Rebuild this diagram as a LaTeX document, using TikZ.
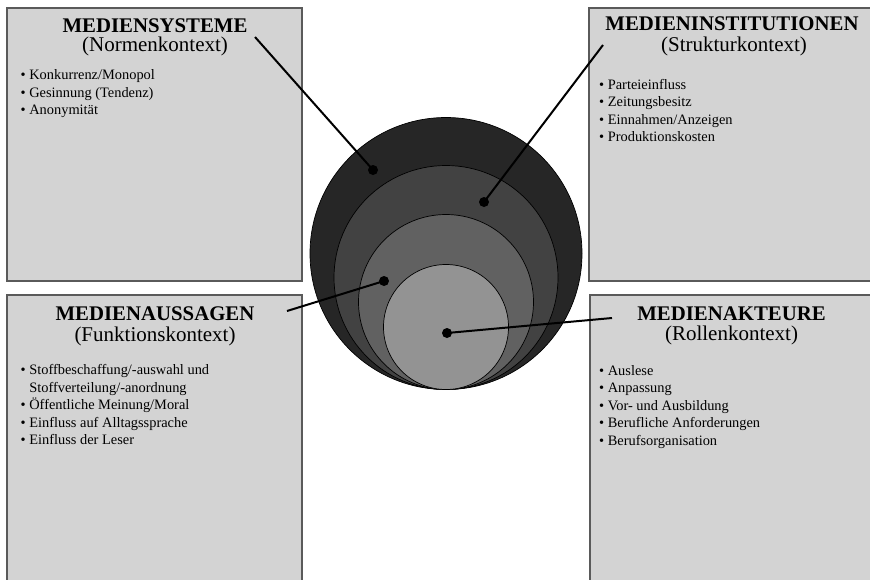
\documentclass[tikz,border=0pt]{standalone}
\usepackage{fontspec}
\setmainfont{Liberation Serif}
\definecolor{boxfill}{RGB}{211,211,211}
\definecolor{boxline}{RGB}{90,90,90}
\definecolor{ringA}{RGB}{38,38,38}
\definecolor{ringB}{RGB}{66,66,66}
\definecolor{ringC}{RGB}{97,97,97}
\definecolor{ringD}{RGB}{147,147,147}
\tikzset{
  panel/.style={draw=boxline, fill=boxfill, line width=1.3pt},
  ttl/.style={anchor=base, inner sep=0pt, font=\fontsize{20.8}{24}\selectfont\bfseries},
  subttl/.style={anchor=base, inner sep=0pt, font=\fontsize{21}{24}\selectfont},
  blist/.style={anchor=base west, inner sep=0pt, font=\fontsize{14.4}{17.6}\selectfont},
  ring/.style={draw=black, line width=0.7pt},
  dot/.style={circle, fill=black, inner sep=0pt, minimum size=10pt},
  conn/.style={line width=2pt, black},
}
\newcommand{\blt}{\textbullet}
\begin{document}
\begin{tikzpicture}[x=1pt,y=-1pt]
\useasboundingbox (0,0) rectangle (870,579);
\clip (0,0) rectangle (870,579);
% panels
\draw[panel] (7,8) rectangle (302,281);
\draw[panel] (589,8) rectangle (885,281);
\draw[panel] (7,295) rectangle (302,595);
\draw[panel] (590,295) rectangle (885,595);
% top-left
\node[ttl] (t1) at (155,32) {MEDIENSYSTEME};
\node[subttl] (s1) at (155,51.5) {(Normenkontext)};
\node[blist] (l1) at (20.5,79.5) {\begin{tabular}[t]{@{}l@{\hspace{3.6pt}}l@{}}
\blt & Konkurrenz/Monopol\\
\blt & Gesinnung (Tendenz)\\
\blt & Anonymität
\end{tabular}};
% top-right
\node[ttl] (t2) at (732,30) {MEDIENINSTITUTIONEN};
\node[subttl] (s2) at (734,51.5) {(Strukturkontext)};
\node[blist] (l2) at (599,89) {\begin{tabular}[t]{@{}l@{\hspace{3.6pt}}l@{}}
\blt & Parteieinfluss\\
\blt & Zeitungsbesitz\\
\blt & Einnahmen/Anzeigen\\
\blt & Produktionskosten
\end{tabular}};
% bottom-left
\node[ttl] (t3) at (155,320) {MEDIENAUSSAGEN};
\node[subttl] (s3) at (155,341) {(Funktionskontext)};
\node[blist] (l3) at (20.5,374.5) {\begin{tabular}[t]{@{}l@{\hspace{3.6pt}}l@{}}
\blt & Stoffbeschaffung/-auswahl und\\
 & Stoffverteilung/-anordnung\\
\blt & Öffentliche Meinung/Moral\\
\blt & Einfluss auf Alltagssprache\\
\blt & Einfluss der Leser
\end{tabular}};
% bottom-right
\node[ttl] (t4) at (731.5,320) {MEDIENAKTEURE};
\node[subttl] (s4) at (731.5,340) {(Rollenkontext)};
\node[blist] (l4) at (599,375) {\begin{tabular}[t]{@{}l@{\hspace{3.6pt}}l@{}}
\blt & Auslese\\
\blt & Anpassung\\
\blt & Vor- und Ausbildung\\
\blt & Berufliche Anforderungen\\
\blt & Berufsorganisation
\end{tabular}};
% rings, all tangent at the bottom
\coordinate (base) at (446,389.5);
\draw[ring, fill=ringA] (446,253.5) circle[radius=136];
\draw[ring, fill=ringB] (446,277.5) circle[radius=112];
\draw[ring, fill=ringC] (446,302) circle[radius=87.5];
\draw[ring, fill=ringD] (446,327) circle[radius=62.5];
% connector ends
\coordinate (e1) at (255,37);
\coordinate (e2) at (603,45);
\coordinate (e3) at (287,311);
\coordinate (e4) at (612,318);
\node[dot] (d1) at (373,170) {};
\node[dot] (d2) at (484,202) {};
\node[dot] (d3) at (384,281) {};
\node[dot] (d4) at (447,333) {};
\draw[conn] (d1.center) -- (e1);
\draw[conn] (d2.center) -- (e2);
\draw[conn] (d3.center) -- (e3);
\draw[conn] (d4.center) -- (e4);
\end{tikzpicture}
\end{document}
